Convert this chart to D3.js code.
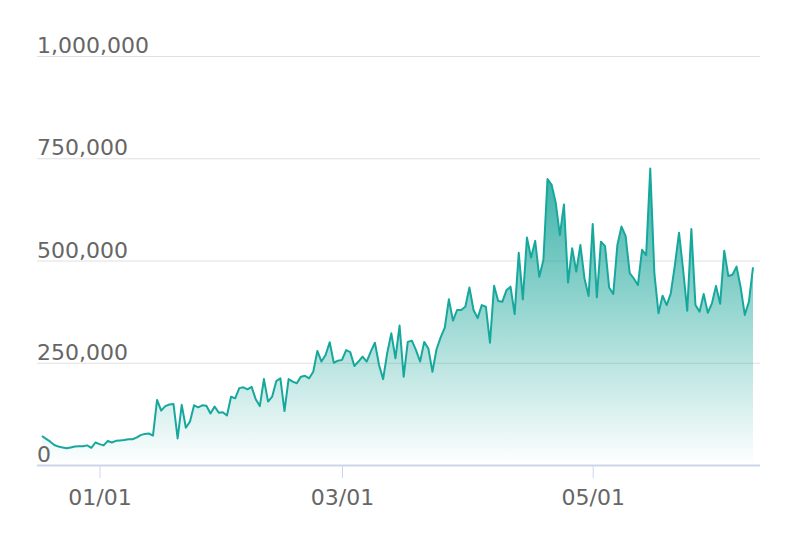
<!DOCTYPE html>
<html>
<head>
<meta charset="utf-8">
<script src="https://cdn.jsdelivr.net/npm/d3@7"></script>
<style>
	body { margin: 0; background: #fff; }
	svg { display: block; }
	.axis-label { font-family: "DejaVu Sans", sans-serif; font-size: 22px; fill: #666; }
</style>
</head>
<body>
<div id="chart"></div>
<script>
// daily values, first day 2020-12-18
const startDate = "2020-12-18";
const values = [
	71000, 64000, 57000, 49000, 45000, 43000, 41000, 43000, 45000, 46000,
	46000, 48000, 42000, 55000, 51000, 48000, 59000, 55000, 59000, 60000,
	61000, 63000, 63000, 67000, 73000, 76000, 77000, 72000, 159000, 133000,
	144000, 148000, 149000, 65000, 147000, 91000, 106000, 146000, 141000, 146000,
	145000, 126000, 143000, 128000, 129000, 121000, 167000, 163000, 188000, 190000,
	185000, 191000, 161000, 144000, 210000, 155000, 167000, 205000, 212000, 132000,
	210000, 204000, 200000, 216000, 218000, 212000, 228000, 279000, 253000, 269000,
	300000, 250000, 255000, 257000, 281000, 276000, 242000, 253000, 265000, 253000,
	277000, 299000, 245000, 210000, 274000, 322000, 261000, 341000, 216000, 301000,
	304000, 281000, 253000, 301000, 285000, 228000, 283000, 312000, 336000, 405000,
	353000, 379000, 379000, 387000, 434000, 379000, 359000, 391000, 387000, 299000,
	438000, 401000, 399000, 427000, 436000, 369000, 519000, 405000, 556000, 507000,
	548000, 460000, 501000, 699000, 685000, 641000, 562000, 637000, 446000, 530000,
	473000, 538000, 456000, 413000, 589000, 410000, 546000, 535000, 434000, 418000,
	538000, 583000, 560000, 469000, 456000, 440000, 526000, 513000, 725000, 469000,
	371000, 414000, 391000, 420000, 489000, 568000, 477000, 377000, 577000, 391000,
	375000, 418000, 372000, 395000, 438000, 394000, 524000, 462000, 465000, 485000,
	434000, 367000, 399000, 483000
];
const yTicks = [0, 250000, 500000, 750000, 1000000];
const xTicks = ["2021-01-01", "2021-03-01", "2021-05-01"];

const width = 798, height = 548;
const parse = d3.timeParse("%Y-%m-%d");
const t0 = parse(startDate);
const data = values.map((v, i) => ({ date: d3.timeDay.offset(t0, i), value: v }));

const svg = d3.select("#chart").append("svg")
	.attr("width", width)
	.attr("height", height);

const x = d3.scaleTime()
	.domain(d3.extent(data, d => d.date))
	.range([42, 753]);
const y = d3.scaleLinear()
	.domain([0, 1000000])
	.range([465, 56]);

const left = 37, right = 760;

// gridlines
svg.append("g").selectAll("line").data(yTicks.filter(d => d > 0)).enter()
	.append("line")
	.attr("x1", left).attr("x2", right)
	.attr("y1", d => y(d) + 0.5).attr("y2", d => y(d) + 0.5)
	.attr("stroke", "#e0e0e0").attr("stroke-width", 1);

// gradient fill for area
const defs = svg.append("defs");
const grad = defs.append("linearGradient")
	.attr("id", "areaFill")
	.attr("x1", 0).attr("y1", 0).attr("x2", 0).attr("y2", 1);
grad.append("stop").attr("offset", "0%").attr("stop-color", "#13a397").attr("stop-opacity", 0.85);
grad.append("stop").attr("offset", "100%").attr("stop-color", "#13a397").attr("stop-opacity", 0);

const area = d3.area()
	.x(d => x(d.date))
	.y0(y(0))
	.y1(d => y(d.value));
const line = d3.line()
	.x(d => x(d.date))
	.y(d => y(d.value));

svg.append("path")
	.datum(data)
	.attr("d", area)
	.attr("fill", "url(#areaFill)");

svg.append("path")
	.datum(data)
	.attr("d", line)
	.attr("fill", "none")
	.attr("stroke", "#17a89d")
	.attr("stroke-width", 2)
	.attr("stroke-linejoin", "round");

// y labels sit above gridlines
svg.append("g").selectAll("text").data(yTicks).enter()
	.append("text")
	.attr("class", "axis-label")
	.attr("x", left)
	.attr("y", d => y(d) - 3)
	.text(d => d3.format(",")(d));

// x axis
const xAxis = d3.axisBottom(x)
	.tickValues(xTicks.map(parse))
	.tickFormat(d3.timeFormat("%m/%d"))
	.tickSize(13)
	.tickPadding(5)
	.tickSizeOuter(0);

const xg = svg.append("g")
	.attr("transform", `translate(0, ${y(0)})`)
	.call(xAxis);
xg.select(".domain").remove();
xg.selectAll(".tick line").attr("stroke", "#ccd6eb");
xg.selectAll(".tick text")
	.attr("class", "axis-label")
	.attr("dy", "1em");
xg.append("line")
	.attr("x1", left).attr("x2", right)
	.attr("y1", 0.5).attr("y2", 0.5)
	.attr("stroke", "#ccd6eb").attr("stroke-width", 2);
</script>
</body>
</html>
